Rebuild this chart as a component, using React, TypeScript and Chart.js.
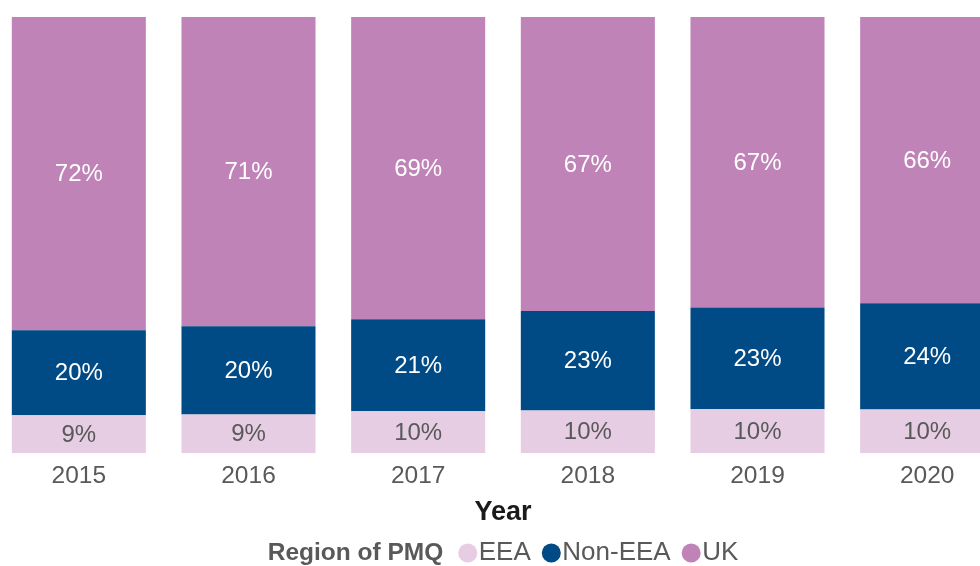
import React, { useEffect, useRef } from "react";
import { Chart, registerables } from "chart.js";

Chart.register(...registerables);

const years = ["2015", "2016", "2017", "2018", "2019", "2020"];
const eea = [8.7, 8.9, 9.6, 9.8, 10.1, 10.0];
const nonEea = [19.5, 20.2, 21.1, 22.8, 23.3, 24.4];
const uk = [71.8, 70.9, 69.3, 67.4, 66.6, 65.6];

const seriesNames = ["EEA", "Non-EEA", "UK"];
const seriesColors = ["#E6CDE3", "#004A85", "#C083B8"];
const labelColors = ["#595959", "#FFFFFF", "#FFFFFF"];
const legendTitle = "Region of PMQ";
const axisTitle = "Year";

const FONT = "'Liberation Sans', Arial, sans-serif";

const valueLabels = {
  id: "valueLabels",
  afterDatasetsDraw(chart: any) {
    const ctx = chart.ctx;
    ctx.save();
    ctx.font = `24px ${FONT}`;
    ctx.textAlign = "center";
    ctx.textBaseline = "middle";
    chart.data.datasets.forEach((ds: any, di: number) => {
      const meta = chart.getDatasetMeta(di);
      meta.data.forEach((el: any, i: number) => {
        const { x, y, base } = el.getProps(["x", "y", "base"], true);
        ctx.fillStyle = labelColors[di];
        ctx.fillText(Math.round(ds.data[i]) + "%", x, (y + base) / 2 + 1);
      });
    });
    ctx.restore();
  },
};

const customLegend = {
  id: "customLegend",
  afterDraw(chart: any) {
    const ctx = chart.ctx;
    const ca = chart.chartArea;
    const cy = 553;
    ctx.save();
    ctx.textBaseline = "middle";
    ctx.textAlign = "left";
    const titleFont = `bold 24.5px ${FONT}`;
    const itemFont = `26px ${FONT}`;
    const r = 9.5;
    ctx.font = titleFont;
    const tw = ctx.measureText(legendTitle).width;
    ctx.font = itemFont;
    const iw = seriesNames.map((n) => ctx.measureText(n).width);
    const gapTitle = 15;
    const gapCircle = 1.5;
    const gapItem = 11;
    let total = tw + gapTitle;
    iw.forEach((w, i) => {
      total += 2 * r + gapCircle + w + (i < iw.length - 1 ? gapItem : 0);
    });
    let x = (ca.left + ca.right) / 2 - total / 2;
    ctx.font = titleFont;
    ctx.fillStyle = "#595959";
    ctx.fillText(legendTitle, x, cy);
    x += tw + gapTitle;
    ctx.font = itemFont;
    seriesNames.forEach((n, i) => {
      ctx.beginPath();
      ctx.fillStyle = seriesColors[i];
      ctx.arc(x + r, cy, r, 0, Math.PI * 2);
      ctx.fill();
      x += 2 * r + gapCircle;
      ctx.fillStyle = "#595959";
      ctx.fillText(n, x, cy);
      x += iw[i] + gapItem;
    });
    ctx.restore();
  },
};

export default function App() {
  const ref = useRef<HTMLCanvasElement>(null);
  useEffect(() => {
    if (!ref.current) return;
    const chart = new Chart(ref.current, {
      type: "bar",
      data: {
        labels: years,
        datasets: [eea, nonEea, uk].map((d, i) => ({
          label: seriesNames[i],
          data: d,
          backgroundColor: seriesColors[i],
          borderWidth: 0,
          categoryPercentage: 1,
          barPercentage: 0.79,
        })),
      },
      options: {
        animation: false,
        responsive: true,
        maintainAspectRatio: false,
        layout: { padding: { top: 17, bottom: 33, left: 0, right: 0 } },
        plugins: {
          legend: { display: false },
          tooltip: { enabled: false },
          title: { display: false },
        },
        scales: {
          x: {
            stacked: true,
            grid: { display: false, drawTicks: false },
            border: { display: false },
            ticks: {
              color: "#595959",
              font: { family: FONT, size: 24.5 },
              padding: 8,
              maxRotation: 0,
            },
            title: {
              display: true,
              text: axisTitle,
              color: "#1a1a1a",
              font: { family: FONT, size: 27, weight: "bold" },
              padding: { top: -2, bottom: 4 },
            },
          },
          y: {
            stacked: true,
            display: false,
            min: 0,
            max: 100,
          },
        },
      },
      plugins: [valueLabels, customLegend],
    });
    return () => chart.destroy();
  }, []);
  return (
    <div
      style={{
        position: "fixed",
        left: 0,
        top: 0,
        width: 980,
        height: 566,
        overflow: "hidden",
        background: "#fff",
      }}
    >
      <div style={{ position: "absolute", left: -6, top: 0, width: 1018, height: 566 }}>
        <canvas ref={ref} />
      </div>
    </div>
  );
}
